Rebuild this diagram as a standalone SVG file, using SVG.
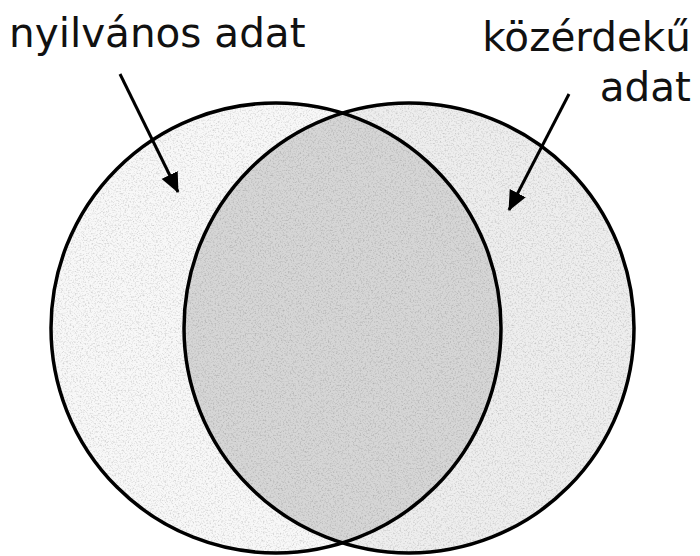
<svg xmlns="http://www.w3.org/2000/svg" width="700" height="556" viewBox="0 0 700 556">
  <defs>
    <style>
      .label { font-family: "DejaVu Sans", Verdana, "Liberation Sans", sans-serif; font-size: 40.5px; fill: #111; }
      .outline { fill: none; stroke: #000; stroke-width: 3.5; }
      .arrow { fill: none; stroke: #000; stroke-width: 3; marker-end: url(#head); }
    </style>
    <marker id="head" viewBox="0 0 20 18" refX="19" refY="9" markerWidth="20" markerHeight="18" markerUnits="userSpaceOnUse" orient="auto">
      <path d="M0,0 L20,9 L0,18 z" fill="#000"/>
    </marker>
    <clipPath id="clipLeft">
      <circle cx="276" cy="328" r="225"/>
    </clipPath>
    <filter id="grain" x="0" y="0" width="100%" height="100%" color-interpolation-filters="sRGB">
      <feTurbulence type="fractalNoise" baseFrequency="0.6" numOctaves="3" seed="7" result="n"/>
      <feColorMatrix in="n" type="matrix" values="0 0 0 0 0  0 0 0 0 0  0 0 0 0 0  0.4 0 0 0 -0.19" result="a"/>
      <feComposite in="a" in2="SourceGraphic" operator="in" result="t"/>
      <feMerge><feMergeNode in="SourceGraphic"/><feMergeNode in="t"/></feMerge>
    </filter>
  </defs>
  <rect width="700" height="556" fill="#fff"/>

  <g id="fills" filter="url(#grain)">
    <circle id="right-fill" cx="409" cy="328" r="225" fill="#eeeeee"/>
    <path id="left-fill" d="M51,328 A225,225 0 1 0 501,328 A225,225 0 1 0 51,328 Z" fill="#f8f8f8"/>
    <circle id="lens-fill" cx="409" cy="328" r="225" fill="#d6d6d6" clip-path="url(#clipLeft)"/>
  </g>

  <g id="nyilvanos">
    <circle class="outline" cx="276" cy="328" r="225"/>
  </g>
  <g id="kozerdeku">
    <circle class="outline" cx="409" cy="328" r="225"/>
  </g>

  <g id="connectors">
    <path class="arrow" d="M120,74 L178,192"/>
    <path class="arrow" d="M569,94 L509,210"/>
  </g>

  <g id="labels">
    <text class="label" x="9" y="47">nyilvános adat</text>
    <text class="label" x="691" y="51" text-anchor="end">közérdekű</text>
    <text class="label" x="691" y="101" text-anchor="end">adat</text>
  </g>
</svg>
